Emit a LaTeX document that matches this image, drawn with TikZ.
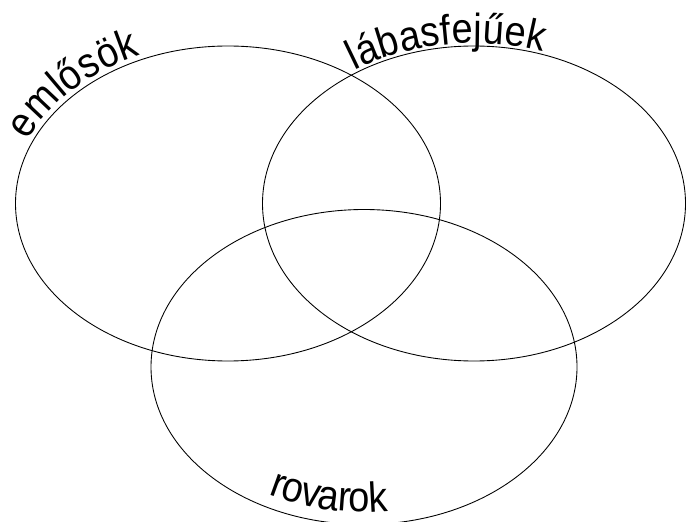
\documentclass[tikz,border=0pt]{standalone}
\usepackage{fontspec}
\setmainfont{Liberation Sans}
\newfontfamily\vennfamily[FakeStretch=0.9]{Liberation Sans}
\usetikzlibrary{decorations.text}

\newcommand{\vennfont}{\vennfamily\fontsize{24}{28}\selectfont}

\begin{document}
\begin{tikzpicture}[
  x=0.02cm, y=0.02cm,
  set/.style={draw=black, line width=0.5pt},
  setlabel/.style={decorate, decoration={text along path, text align=center, raise=#1}}
]
\useasboundingbox (0,0) rectangle (686,521);

% the three sets
\coordinate (mam) at (228,317.5);
\coordinate (ceph) at (474,317.5);
\coordinate (ins) at (364,154);

\draw[set] (mam) ellipse [x radius=212.5, y radius=157.5];
\draw[set] (ceph) ellipse [x radius=211.5, y radius=157.5];
\draw[set] (ins) ellipse [x radius=213, y radius=157.5];

% labels along the outlines
\path[setlabel=2.5pt, decoration={text={|\vennfont|emlősök}}]
  ([shift={(170:212.5 and 157.5)}]mam) arc[start angle=170, end angle=104, x radius=212.5, y radius=157.5];
\path[setlabel=1.5pt, decoration={text={|\vennfont|lábasfejűek}}]
  ([shift={(138:211.5 and 157.5)}]ceph) arc[start angle=138, end angle=58, x radius=211.5, y radius=157.5];
\path[setlabel=7pt, decoration={text={|\vennfont|rovarok}}]
  ([shift={(229:213 and 157.5)}]ins) arc[start angle=229, end angle=289, x radius=213, y radius=157.5];
\end{tikzpicture}
\end{document}
